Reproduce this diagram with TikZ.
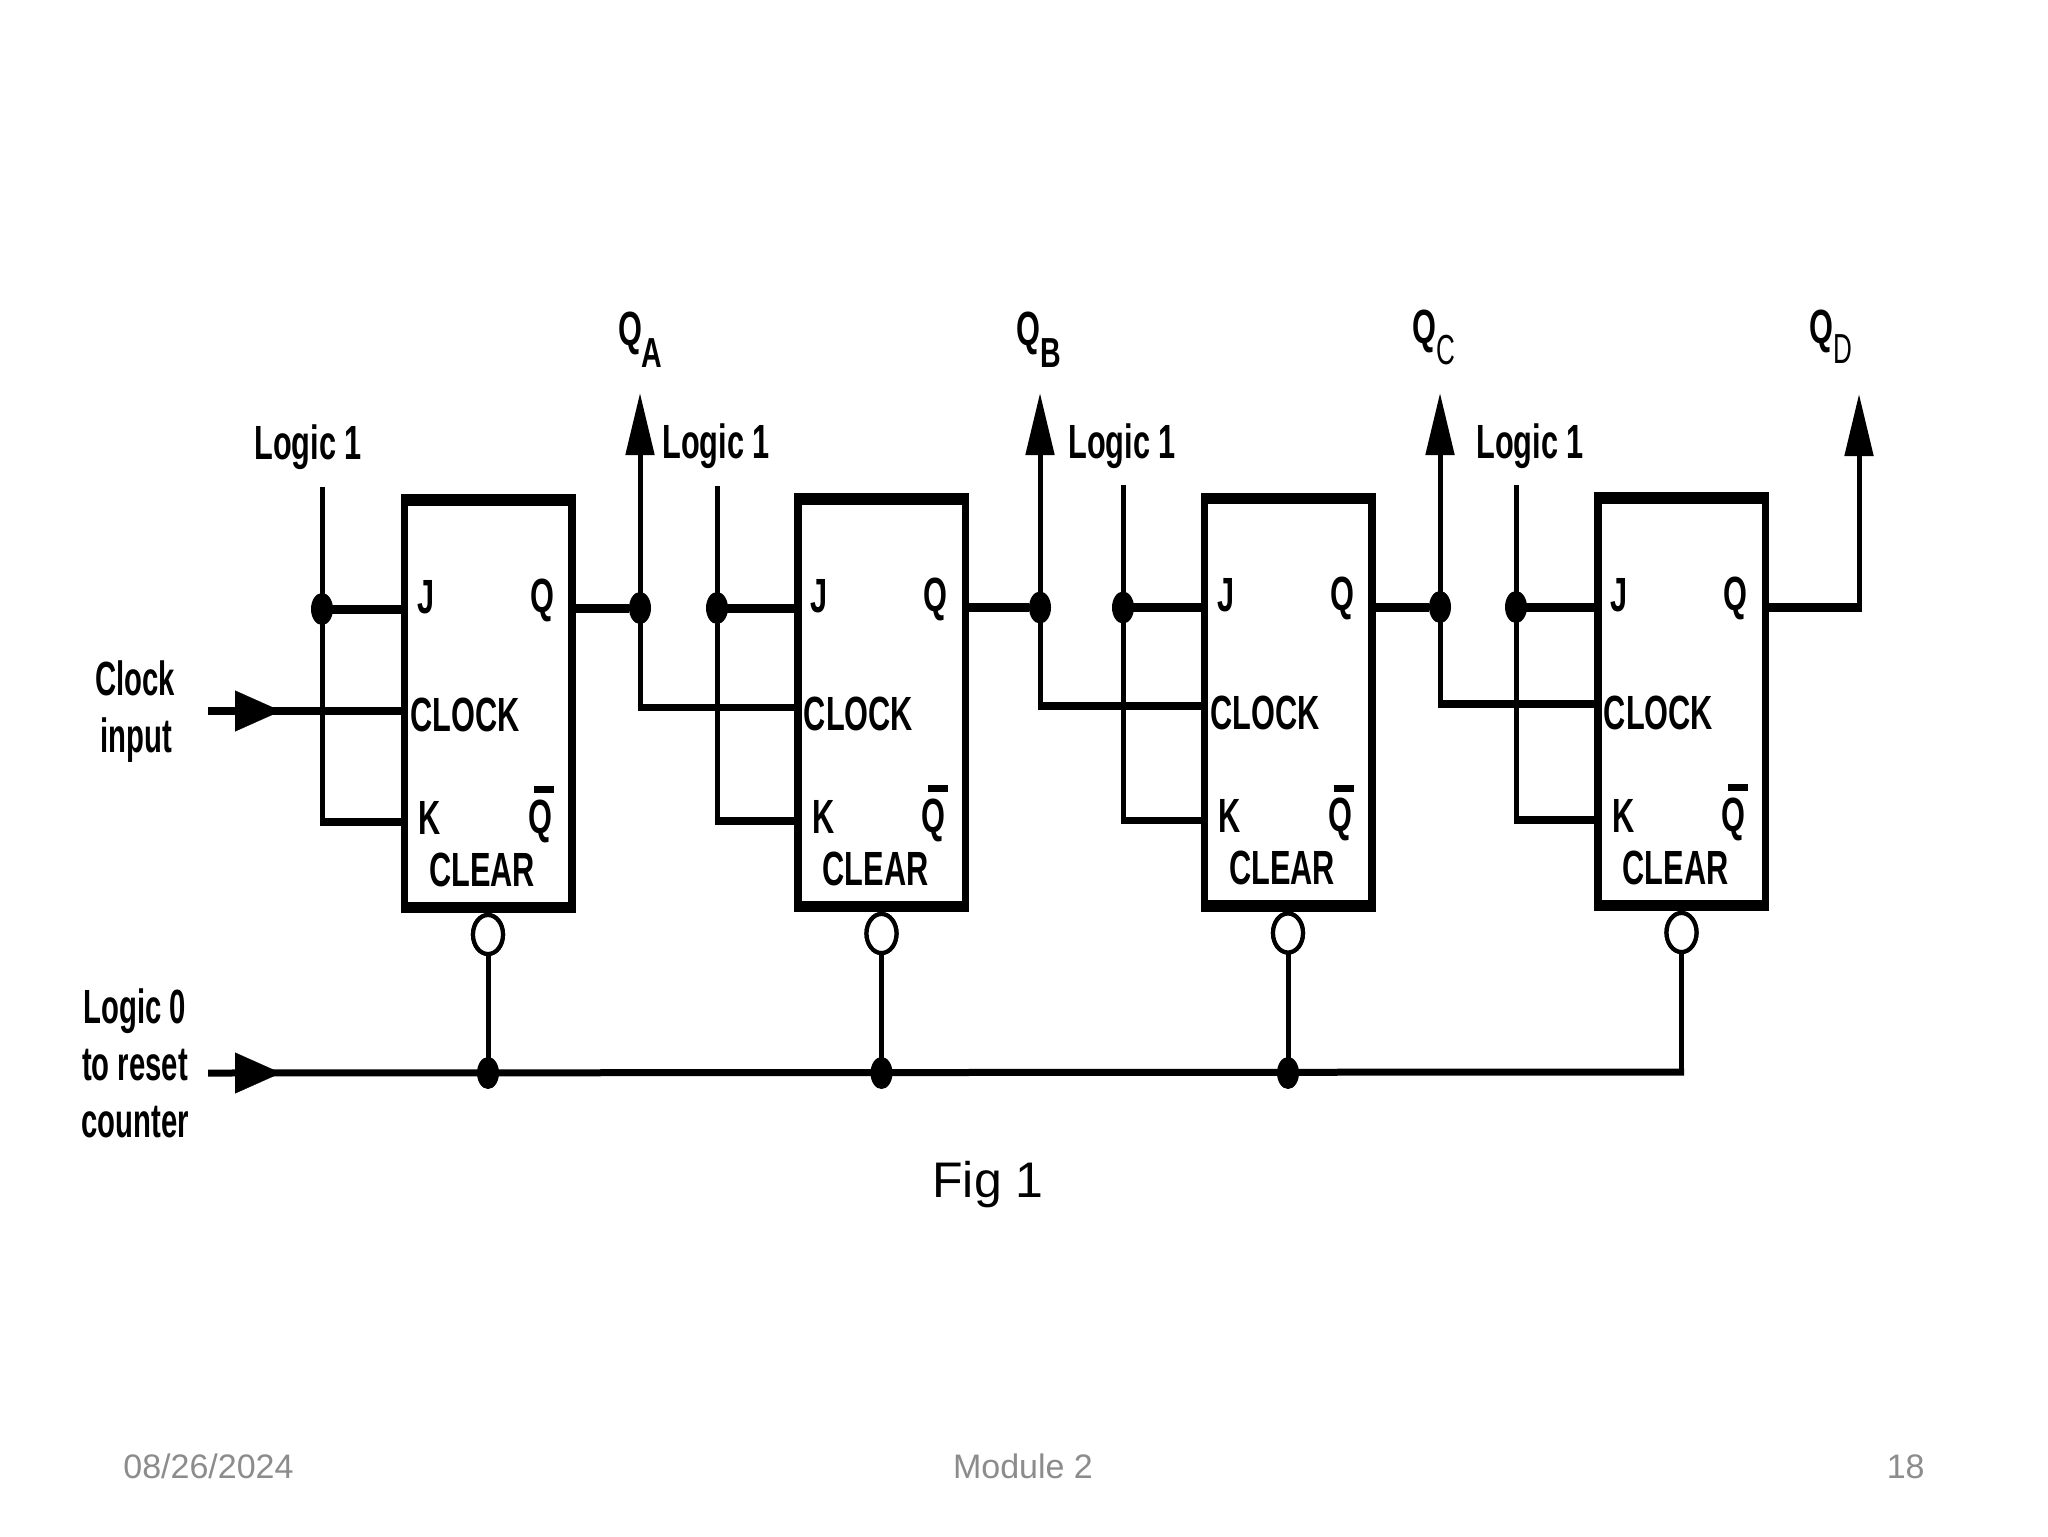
\documentclass[tikz,border=0pt]{standalone}
\usepackage{fontspec}
\setmainfont{Liberation Sans}
\usetikzlibrary{arrows.meta,shapes.geometric}
\newcommand{\lab}[1]{\scalebox{0.64}[1]{\fontsize{24}{24}\selectfont\bfseries #1}}
\newcommand{\oul}[1]{\scalebox{0.61}[1]{\fontsize{24}{24}\selectfont\bfseries #1}}
\newcommand{\subb}[1]{\scalebox{0.68}[1]{\fontsize{21}{21}\selectfont\bfseries #1}}
\newcommand{\subl}[1]{\scalebox{0.62}[1]{\fontsize{21}{21}\selectfont #1}}
\definecolor{foot}{HTML}{8C8C8C}
\tikzset{
  hw/.style={line width=4.5pt,line cap=butt,shorten <=-1.25pt,shorten >=-2pt},
  hn/.style={line width=3.8pt,line cap=butt,shorten <=-1.25pt,shorten >=-2pt},
  vw/.style={line width=2.5pt,line cap=rect},
  buswire/.style={line width=3.5pt,line cap=butt},
  dotn/.style={ellipse,fill=black,inner sep=0pt,minimum width=11pt,minimum height=16pt},
  bubble/.style={ellipse,draw=black,fill=white,line width=2.1pt,inner sep=0pt,minimum width=15pt,minimum height=19.5pt},
  txt/.style={inner sep=0pt,anchor=base},
  ffout/.style={rectangle,fill=black,inner sep=0pt,minimum width=87.5pt,minimum height=209.5pt},
  ffin/.style={rectangle,fill=white,inner sep=0pt,minimum width=80pt,minimum height=198pt},
  upar/.style={-{Triangle[length=31pt,width=14pt]}},
  inar/.style={-{Triangle[length=23pt,width=20.5pt]}},
  foottxt/.style={inner sep=0pt,anchor=base,text=foot,font=\fontsize{17}{17}\selectfont}
}
\begin{document}
\begin{tikzpicture}[x=0.5pt,y=-0.5pt]
\useasboundingbox[fill=white] (0,0) rectangle (2048,1536);
% flip-flops
\foreach \i/\bx/\lx/\lgx/\dy in {1/0/322/308/0,2/393.5/717/716/-1,3/800/1123/1122/-1.5,4/1193.5/1516/1530/-2}{
  \node[ffout] (ff\i) at ({488+\bx},{703.5+\dy}) {};
  \node[ffin] (in\i) at (ff\i) {};
  \node[txt] (j\i) at ({426+\bx},{613+\dy}) {\lab{J}};
  \node[txt] (q\i) at ({542+\bx},{612+\dy}) {\lab{Q}};
  \node[txt] (ck\i) at ({465+\bx},{731+\dy}) {\lab{CLOCK}};
  \node[txt] (k\i) at ({430+\bx},{834+\dy}) {\lab{K}};
  \node[txt] (qn\i) at ({540+\bx},{833+\dy}) {\lab{Q}};
  \node[txt] (cl\i) at ({482+\bx},{886+\dy}) {\lab{CLEAR}};
  \fill ({534+\bx},{786+\dy}) rectangle ({554+\bx},{793+\dy});
  \node[bubble] (bb\i) at ({488+\bx},{934.5+\dy}) {};
  \node[dotn] (jd\i) at (\lx,{609+\dy}) {};
  \coordinate (lt\i) at (\lx,{489+\dy});
  \coordinate (kc\i) at (\lx,{822+\dy});
  \node[txt] (lg\i) at (\lgx,{459+0.5*\dy}) {\lab{Logic 1}};
  \draw[vw] (lt\i) -- (kc\i);
  \draw[hw] (jd\i) -- (jd\i -| ff\i.west);
  \draw[hn] (kc\i) -- (kc\i -| ff\i.west);
  \coordinate (cki\i) at (ff\i.west |- 0,{711+\dy*3.5});
}
% reset bus junctions
\foreach \i in {1,2,3}{\node[dotn] (bd\i) at (bb\i |- 0,1073) {};}
\coordinate (bd4) at (bb4 |- 0,1072);
% stage outputs
\foreach \i/\qx/\next/\dy in {1/640/2/-1,2/1040/3/-1.5,3/1440/4/-2}{
  \node[dotn] (qd\i) at (\qx,{609+\dy}) {};
  \coordinate (qt\i) at (\qx,393);
  \draw[hw,shorten >=0pt] (ff\i.east |- qd\i) -- (qd\i);
  \draw[vw,upar] (qd\i) -- (qt\i);
  \draw[vw] (qd\i) -- (qd\i |- cki\next);
  \draw[hn] (qd\i |- cki\next) -- (cki\next);
}
% bubbles to bus
\foreach \i in {1,2,3,4}{\draw[vw] (bb\i) -- (bd\i);}
\foreach \i in {1,2,3,4}{\node[bubble] at (bb\i) {};}
% last output
\coordinate (qc4) at (1859,607);
\coordinate (qt4) at (1859,394);
\draw[hw,shorten >=-1.25pt] (ff4.east |- qc4) -- (qc4);
\draw[vw,upar] (qc4) -- (qt4);
% clock input
\coordinate (cs) at (208,711);
\coordinate (ca) at (281,711);
\draw[line width=4pt,shorten >=-2pt] (cs) -- (cki1);
\draw[line width=0.1pt,inar] (cs) -- (ca);
% reset bus
\coordinate (bs) at (208,1073);
\coordinate (ba) at (281,1073);
\draw[buswire,shorten >=-1.25pt] (bs) -- (bd4);
\draw[line width=0.1pt,inar] (bs) -- (ba);
% outer labels
\node[txt] (clk) at (135,695) {\oul{Clock}};
\node[txt] (inp) at (136,752) {\oul{input}};
\node[txt] (l0) at (135,1023) {\oul{Logic 0}};
\node[txt] (tr) at (135,1080) {\oul{to reset}};
\node[txt] (cn) at (135,1137) {\oul{counter}};
% output labels
\node[txt,anchor=base west] (qa) at (618,345) {\lab{Q}};
\node[txt,anchor=base west] (sa) at (641,367) {\subb{A}};
\node[txt,anchor=base west] (qb) at (1016,345) {\lab{Q}};
\node[txt,anchor=base west] (sb) at (1040,367) {\subb{B}};
\node[txt,anchor=base west] (qcl) at (1412,343) {\lab{Q}};
\node[txt,anchor=base west] (sc) at (1436,364) {\subl{C}};
\node[txt,anchor=base west] (qdl) at (1809,343) {\lab{Q}};
\node[txt,anchor=base west] (sd) at (1833,363) {\subl{D}};
% caption and footer
\node[txt] (fig) at (988,1197) {\fontsize{25}{25}\selectfont Fig 1};
\node[foottxt,anchor=base west] (date) at (123,1478) {08/26/2024};
\node[foottxt] (mod) at (1023,1478) {Module 2};
\node[foottxt,anchor=base east] (pg) at (1925,1478) {18};
\end{tikzpicture}
\end{document}
